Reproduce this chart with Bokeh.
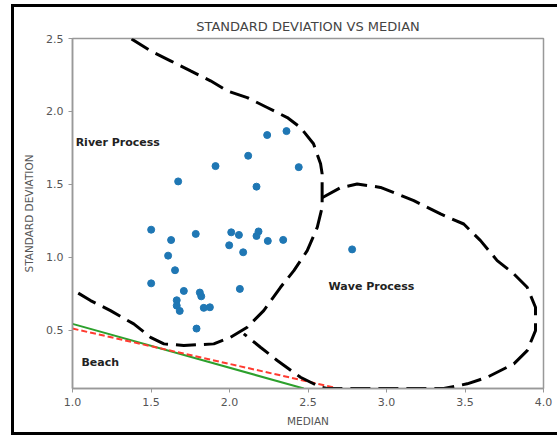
from bokeh.plotting import figure
from bokeh.models import FixedTicker, Range1d, PrintfTickFormatter
from bokeh.core.properties import value
from bokeh.embed import file_html
from bokeh.resources import INLINE

# scatter data (MEDIAN, STANDARD DEVIATION)
median = [2.363, 2.240, 1.673, 1.911, 2.119, 2.172, 2.441,
          1.501, 1.628, 1.785, 2.011, 2.060, 2.185, 2.172, 2.244, 2.342,
          1.998, 2.087, 1.609, 1.653, 1.501, 1.709, 1.811, 1.820, 2.066,
          1.664, 1.664, 1.683, 1.836, 1.875, 1.790, 2.781]
std_dev = [1.865, 1.838, 1.520, 1.625, 1.696, 1.484, 1.618,
           1.189, 1.118, 1.160, 1.171, 1.153, 1.177, 1.146, 1.112, 1.119,
           1.082, 1.034, 1.011, 0.911, 0.821, 0.769, 0.758, 0.732, 0.783,
           0.705, 0.668, 0.632, 0.653, 0.657, 0.511, 1.054]

# hand-drawn region boundaries
river_x = [1.376, 1.497, 1.624, 1.752, 1.879, 1.985, 2.113, 2.240, 2.368, 2.452,
           2.535, 2.580, 2.590, 2.590, 2.590, 2.559, 2.495, 2.410, 2.325, 2.218,
           2.113, 2.006, 1.900, 1.709, 1.582, 1.497, 1.390, 1.242, 1.115, 1.000]
river_y = [2.497, 2.415, 2.347, 2.278, 2.210, 2.141, 2.095, 2.027, 1.958, 1.890,
           1.778, 1.641, 1.573, 1.408, 1.342, 1.205, 1.045, 0.908, 0.794, 0.634,
           0.520, 0.451, 0.406, 0.395, 0.406, 0.451, 0.543, 0.634, 0.703, 0.778]
wave_x = [2.590, 2.707, 2.813, 2.962, 3.174, 3.344, 3.492, 3.599, 3.705, 3.811,
          3.896, 3.949, 3.949, 3.896, 3.811, 3.641, 3.514, 3.365, 2.622, 2.580,
          2.452, 2.304, 2.197, 2.091]
wave_y = [1.408, 1.477, 1.502, 1.479, 1.388, 1.297, 1.228, 1.114, 0.977, 0.886,
          0.794, 0.657, 0.497, 0.360, 0.269, 0.177, 0.132, 0.100, 0.100, 0.109,
          0.177, 0.292, 0.383, 0.475]
green_x = [1.0, 2.473]
green_y = [0.543, 0.100]
red_x = [1.0, 2.696]
red_y = [0.511, 0.100]

labels = ["River Process", "Wave Process", "Beach"]
label_x = [1.02, 2.631, 1.057]
label_y = [1.79, 0.80, 0.278]

x_ticks = [1.0, 1.5, 2.0, 2.5, 3.0, 3.5, 4.0]
y_ticks = [0.5, 1.0, 1.5, 2.0, 2.5]

FONT = "DejaVu Sans"

p = figure(width=546, height=431, output_backend="svg", toolbar_location=None,
           x_range=Range1d(1.0, 4.0), y_range=Range1d(0.1, 2.5),
           min_border_left=58, min_border_right=17, min_border_top=31, min_border_bottom=50,
           title="STANDARD DEVIATION VS MEDIAN")
p.styles = {"border-left": "3px solid black", "border-top": "3px solid black",
            "border-bottom": "3px solid black", "margin-left": "11px", "margin-top": "4px"}

p.title.align = "center"
p.title.text_font = FONT
p.title.text_font_size = "13px"
p.title.text_font_style = "normal"
p.title.text_color = "#444444"

p.grid.visible = False
p.outline_line_color = "#999999"
p.outline_line_width = 1.5

for ax in (p.xaxis[0], p.yaxis[0]):
    ax.axis_line_color = "#999999"
    ax.axis_line_width = 1.5
    ax.major_tick_line_color = "#999999"
    ax.major_tick_out = 4
    ax.major_tick_in = 0
    ax.minor_tick_line_color = None
    ax.major_label_text_font = FONT
    ax.major_label_text_font_size = "11px"
    ax.major_label_text_color = "#555555"
    ax.axis_label_text_font = FONT
    ax.axis_label_text_font_size = "10.5px"
    ax.axis_label_text_font_style = "normal"
    ax.axis_label_text_color = "#555555"
    ax.major_label_standoff = 5
    ax.formatter = PrintfTickFormatter(format="%.1f")

p.xaxis[0].ticker = FixedTicker(ticks=x_ticks)
p.yaxis[0].ticker = FixedTicker(ticks=y_ticks)
p.xaxis[0].axis_label = "MEDIAN"
p.yaxis[0].axis_label = "STANDARD DEVIATION"
p.xaxis[0].axis_label_standoff = 6
p.yaxis[0].axis_label_standoff = 8

p.line(green_x, green_y, line_color="#2ca02c", line_width=2)
p.line(red_x, red_y, line_color="#ff3b30", line_width=2, line_dash="6 3")
p.line(river_x, river_y, line_color="black", line_width=3, line_dash="20 8")
p.line(wave_x, wave_y, line_color="black", line_width=3, line_dash="20 8")

p.scatter(median, std_dev, size=7, fill_color="#1f77b4", line_color="#1f77b4")

p.text(label_x, label_y, text=labels, text_font=value(FONT), text_font_size="11px",
       text_font_style="bold", text_color="#222222", text_baseline="middle", text_align="left")

open("out.html", "w").write(file_html(p, INLINE))
